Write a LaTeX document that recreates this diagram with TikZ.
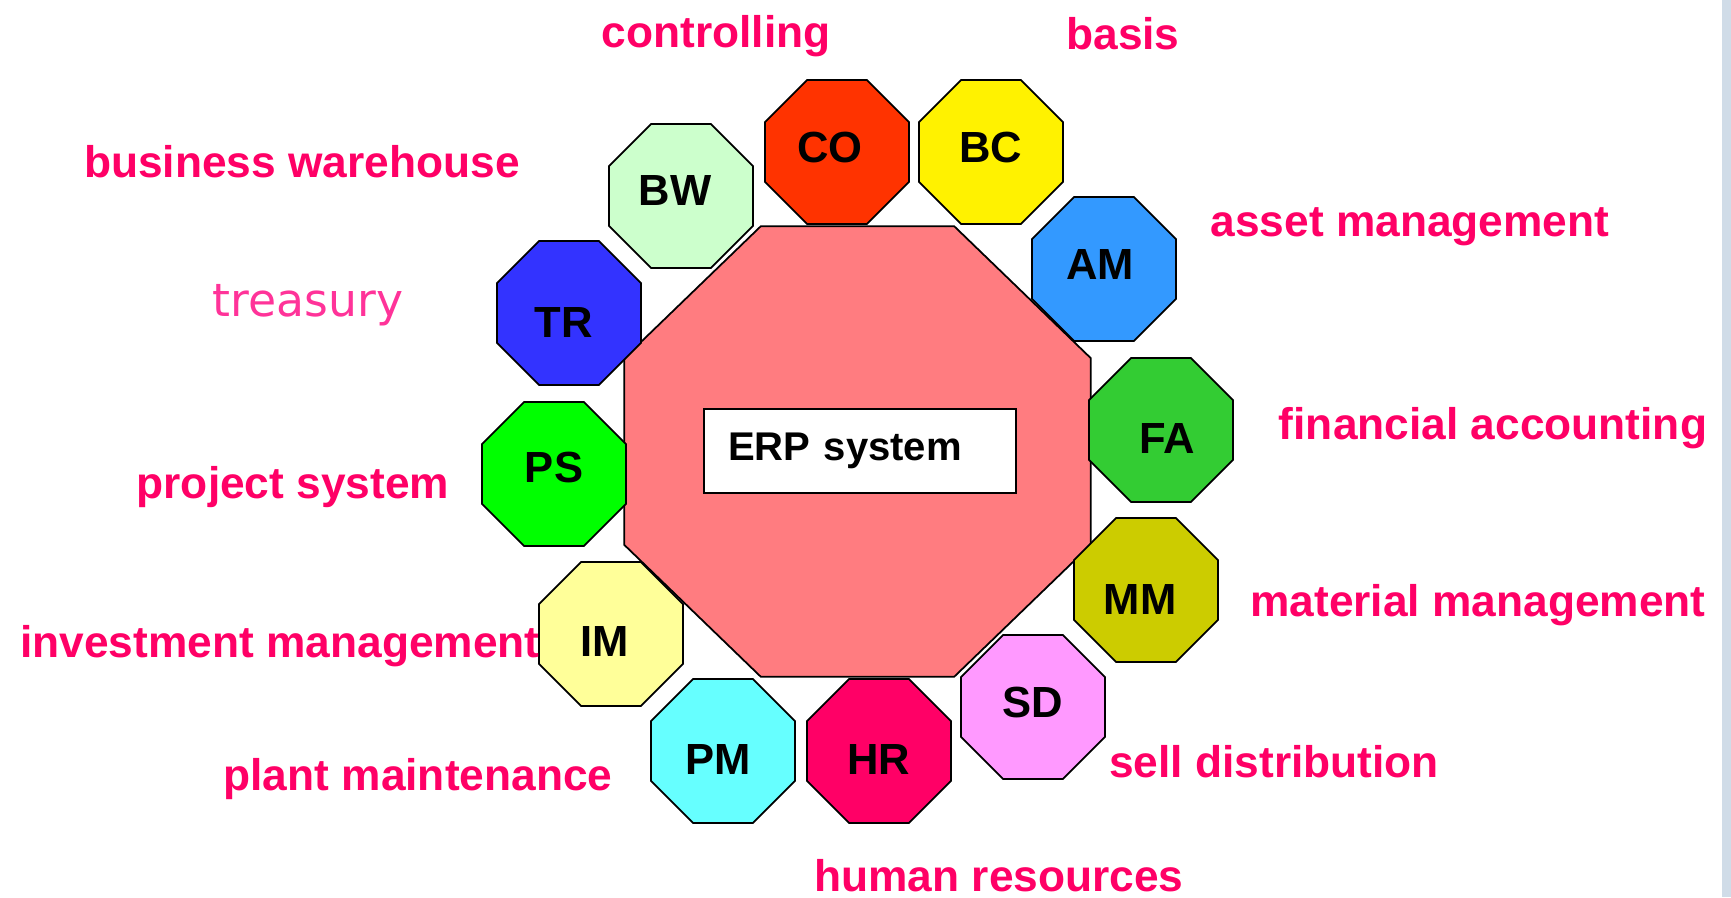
\documentclass[tikz,border=0pt]{standalone}
\usepackage{fontspec}
\setmainfont{Liberation Sans}
\newfontfamily\treasuryfont{DejaVu Sans}
\usepackage{tikz}
\usetikzlibrary{positioning,shapes.geometric}
\definecolor{labelpink}{HTML}{FF0066}
\definecolor{softpink}{HTML}{FF3399}
\definecolor{corepink}{HTML}{FF7C80}
\definecolor{edgeblue}{HTML}{D0DCE8}
\tikzset{
  coreoct/.style={regular polygon, regular polygon sides=8, draw, line width=0.5pt,
    fill=corepink, minimum size=50.5mm, inner sep=0pt},
  corebox/.style={draw, line width=0.6pt, fill=white, align=left, text width=26.4mm,
    minimum height=8.1mm, inner sep=2.4mm, font=\fontsize{11.4}{13}\selectfont\bfseries},
  modoct/.style={regular polygon, regular polygon sides=8, draw, line width=0.5pt,
    minimum size=15.6mm, inner sep=0pt},
  modname/.style={inner sep=0pt, font=\fontsize{12.4}{14}\selectfont\bfseries},
  modlabel/.style={text=labelpink, inner sep=0pt, font=\fontsize{12.6}{15}\selectfont\bfseries},
}

\begin{document}
\begin{tikzpicture}
  \useasboundingbox (0,0) rectangle (17.31,8.97);
  \fill[white] (0,0) rectangle (17.31,8.97);
  \fill[edgeblue] (17.22,0) rectangle (17.31,8.97);
  % core, a little flatter than a regular octagon
  \begin{scope}[shift={(8.575,4.455)}, yscale=0.966]
    \node[coreoct, transform shape] (core) at (0,0) {};
  \end{scope}
  \node[corebox] (erp) at (8.60,4.46) {ERP system};
  % modules round the core
  \node[modoct, fill={rgb,255:red,255;green,51;blue,0},
    label={[modname, xshift=-0.07cm, yshift=0.044cm]center:CO}] (co) at (8.37,7.45) {};
  \node[modoct, fill=yellow,
    label={[modname, yshift=0.044cm]center:BC}] (bc) at (9.91,7.45) {};
  \node[modoct, fill={rgb,255:red,204;green,255;blue,204},
    label={[modname, xshift=-0.06cm, yshift=0.055cm]center:BW}] (bw) at (6.81,7.01) {};
  \node[modoct, fill={rgb,255:red,51;green,153;blue,255},
    label={[modname, xshift=-0.04cm, yshift=0.044cm]center:AM}] (am) at (11.04,6.28) {};
  \node[modoct, fill={rgb,255:red,51;green,51;blue,255},
    label={[modname, xshift=-0.05cm, yshift=-0.10cm]center:TR}] (tr) at (5.69,5.84) {};
  \node[modoct, fill={rgb,255:red,51;green,204;blue,51},
    label={[modname, xshift=0.06cm, yshift=-0.09cm]center:FA}] (fa) at (11.61,4.67) {};
  \node[modoct, fill={rgb,255:red,0;green,255;blue,0},
    label={[modname, yshift=0.066cm]center:PS}] (ps) at (5.54,4.23) {};
  \node[modoct, fill={rgb,255:red,204;green,204;blue,0},
    label={[modname, xshift=-0.06cm, yshift=-0.10cm]center:MM}] (mm) at (11.46,3.07) {};
  \node[modoct, fill={rgb,255:red,255;green,255;blue,153},
    label={[modname, xshift=-0.06cm, yshift=-0.077cm]center:IM}] (im) at (6.11,2.63) {};
  \node[modoct, fill={rgb,255:red,255;green,153;blue,255},
    label={[modname, yshift=0.044cm]center:SD}] (sd) at (10.33,1.90) {};
  \node[modoct, fill={rgb,255:red,102;green,255;blue,255},
    label={[modname, xshift=-0.05cm, yshift=-0.09cm]center:PM}] (pm) at (7.23,1.46) {};
  \node[modoct, fill={rgb,255:red,255;green,0;blue,102},
    label={[modname, yshift=-0.09cm]center:HR}] (hr) at (8.79,1.46) {};
  % names of the modules
  \node[modlabel] (colbl) at (7.16,8.607) {controlling};
  \node[modlabel] (bclbl) at (11.23,8.63) {basis};
  \node[modlabel] (bwlbl) at (3.02,7.35) {business warehouse};
  \node[modlabel] (amlbl) at (14.10,6.705) {asset management};
  \node[text=softpink, inner sep=0pt, font=\treasuryfont\fontsize{13}{15}\selectfont] (trlbl) at (3.08,5.916) {treasury};
  \node[modlabel] (falbl) at (14.93,4.687) {financial accounting};
  \node[modlabel] (pslbl) at (2.93,4.097) {project system};
  \node[modlabel] (mmlbl) at (14.78,2.917) {material management};
  \node[modlabel] (imlbl) at (2.80,2.507) {investment management};
  \node[modlabel] (sdlbl) at (12.74,1.35) {sell distribution};
  \node[modlabel] (pmlbl) at (4.18,1.176) {plant maintenance};
  \node[modlabel, anchor=base] (hrlbl) at (9.99,0.06) {human resources};
\end{tikzpicture}
\end{document}
